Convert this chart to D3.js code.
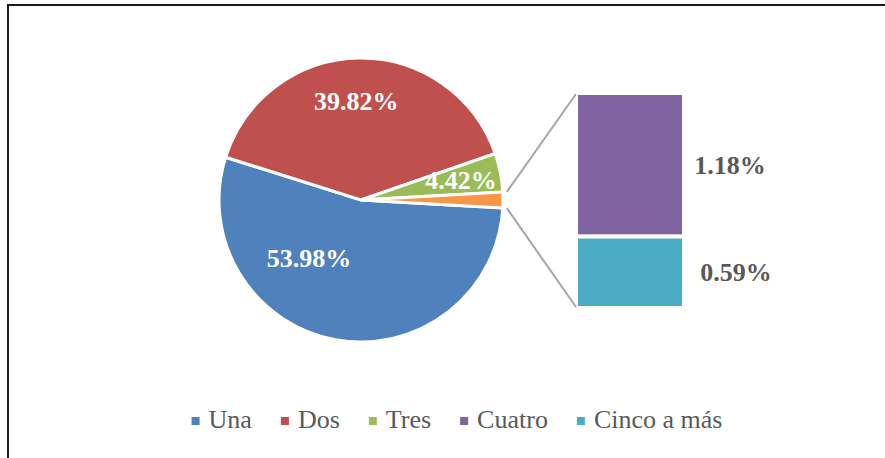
<!DOCTYPE html>
<html>
<head>
<meta charset="utf-8">
<script src="https://cdn.jsdelivr.net/npm/d3@7/dist/d3.min.js"></script>
<style>
  html, body { margin: 0; padding: 0; background: #ffffff; }
  svg { display: block; }
</style>
</head>
<body>
<svg id="chart" width="885" height="458"></svg>
<script>
// Número de integrantes por hogar (%)
const categories = ["Una", "Dos", "Tres", "Cuatro", "Cinco a más"];
const values = [53.98, 39.82, 4.42, 1.18, 0.59];
const colors = ["#4f81bd", "#c0504d", "#9bbb59", "#8064a2", "#4bacc6"];
const otherColor = "#f79646";
// the first three go in the pie, the rest are grouped and broken out in the bar
const pieCount = 3;

const W = 885, H = 458;
const svg = d3.select("#chart");
const serif = "Liberation Serif";

// outer frame
svg.append("rect")
  .attr("x", 8).attr("y", 5)
  .attr("width", W + 20).attr("height", H + 20)
  .attr("fill", "none").attr("stroke", "#1a1a1a").attr("stroke-width", 2);

// ---- pie ----
const cx = 361, cy = 200, R = 142;
const otherValues = values.slice(pieCount);
const otherTotal = d3.sum(otherValues);
const pieData = values.slice(0, pieCount).map((v, i) => ({ name: categories[i], value: v, color: colors[i] }))
  .concat([{ name: "Otros", value: otherTotal, color: otherColor, other: true }]);

const total = d3.sum(pieData, d => d.value);
const otherAngle = 2 * Math.PI * otherTotal / total;
// grouped slice sits centred on the right (3 o'clock)
const start = Math.PI / 2 + otherAngle / 2;

const pie = d3.pie().sort(null).value(d => d.value)
  .startAngle(start).endAngle(start + 2 * Math.PI);
const arcs = pie(pieData);
const arc = d3.arc().innerRadius(0).outerRadius(R);

const gPie = svg.append("g").attr("transform", `translate(${cx},${cy})`);
gPie.selectAll("path").data(arcs).join("path")
  .attr("d", arc)
  .attr("fill", d => d.data.color)
  .attr("stroke", "#ffffff")
  .attr("stroke-width", 3)
  .attr("stroke-linejoin", "miter");

// label placement per slice: radius and angular shift from the slice middle
const labelPlace = { "Una": { r: 78, shift: 31.5 }, "Dos": { r: 99, shift: -2 }, "Tres": { r: 102, shift: 0 } };
arcs.filter(d => !d.data.other).forEach(d => {
  const p = labelPlace[d.data.name];
  const a = (d.startAngle + d.endAngle) / 2 + p.shift * Math.PI / 180;
  gPie.append("text")
    .attr("x", p.r * Math.sin(a))
    .attr("y", -p.r * Math.cos(a))
    .attr("dy", "0.35em")
    .attr("text-anchor", "middle")
    .attr("font-family", serif)
    .attr("font-weight", "bold")
    .attr("font-size", 26)
    .attr("fill", "#ffffff")
    .text(d3.format(".2f")(d.data.value) + "%");
});

// ---- bar of the grouped slice ----
const barX = 576, barW = 108, barTop = 93, barBottom = 308;
const y = d3.scaleLinear().domain([0, otherTotal]).range([barBottom, barTop]);
// first of the grouped categories sits on top
const stack = otherValues.map((v, i) => ({ name: categories[pieCount + i], value: v, color: colors[pieCount + i] })).reverse();
let acc = 0;
stack.forEach(s => { s.y0 = acc; s.y1 = acc + s.value; acc += s.value; });

const gBar = svg.append("g");
gBar.selectAll("rect").data(stack).join("rect")
  .attr("x", barX)
  .attr("y", d => y(d.y1))
  .attr("width", barW)
  .attr("height", d => y(d.y0) - y(d.y1))
  .attr("fill", d => d.color)
  .attr("stroke", "#ffffff")
  .attr("stroke-width", 4);

gBar.selectAll("text").data(stack).join("text")
  .attr("x", d => barX + barW + 46 + (d.value < 1 ? 6 : 0))
  .attr("y", d => (y(d.y0) + y(d.y1)) / 2)
  .attr("dy", "0.35em")
  .attr("text-anchor", "middle")
  .attr("font-family", serif)
  .attr("font-weight", "bold")
  .attr("font-size", 26)
  .attr("fill", "#595959")
  .text(d => d3.format(".2f")(d.value) + "%");

// connector lines from the grouped slice edges to the bar corners
const otherArc = arcs.find(d => d.data.other);
const rc = R + 4;
const edge = a => [cx + rc * Math.sin(a), cy - rc * Math.cos(a)];
const pTop = edge(otherArc.startAngle);
const pBot = edge(otherArc.endAngle);
[[pTop, [barX, y(otherTotal) + 1]], [pBot, [barX, y(0) - 1]]].forEach(([a, b]) => {
  svg.append("line")
    .attr("x1", a[0]).attr("y1", a[1])
    .attr("x2", b[0]).attr("y2", b[1])
    .attr("stroke", "#a6a6a6").attr("stroke-width", 2);
});

// ---- legend ----
const legendY = 421, markerSize = 8, markerGap = 9, itemGap = 29;
const gLeg = svg.append("g");
const items = categories.map((c, i) => {
  const g = gLeg.append("g");
  g.append("rect")
    .attr("x", 0).attr("y", legendY - markerSize / 2)
    .attr("width", markerSize).attr("height", markerSize)
    .attr("fill", colors[i]);
  const t = g.append("text")
    .attr("x", markerSize + markerGap).attr("y", legendY + 7)
    .attr("font-family", serif)
    .attr("font-size", 26)
    .attr("fill", "#595959")
    .text(c);
  return { g, w: markerSize + markerGap + t.node().getComputedTextLength() };
});
const legendW = d3.sum(items, d => d.w) + itemGap * (items.length - 1);
let lx = 457 - legendW / 2;
items.forEach(it => {
  it.g.attr("transform", `translate(${lx},0)`);
  lx += it.w + itemGap;
});
</script>
</body>
</html>
